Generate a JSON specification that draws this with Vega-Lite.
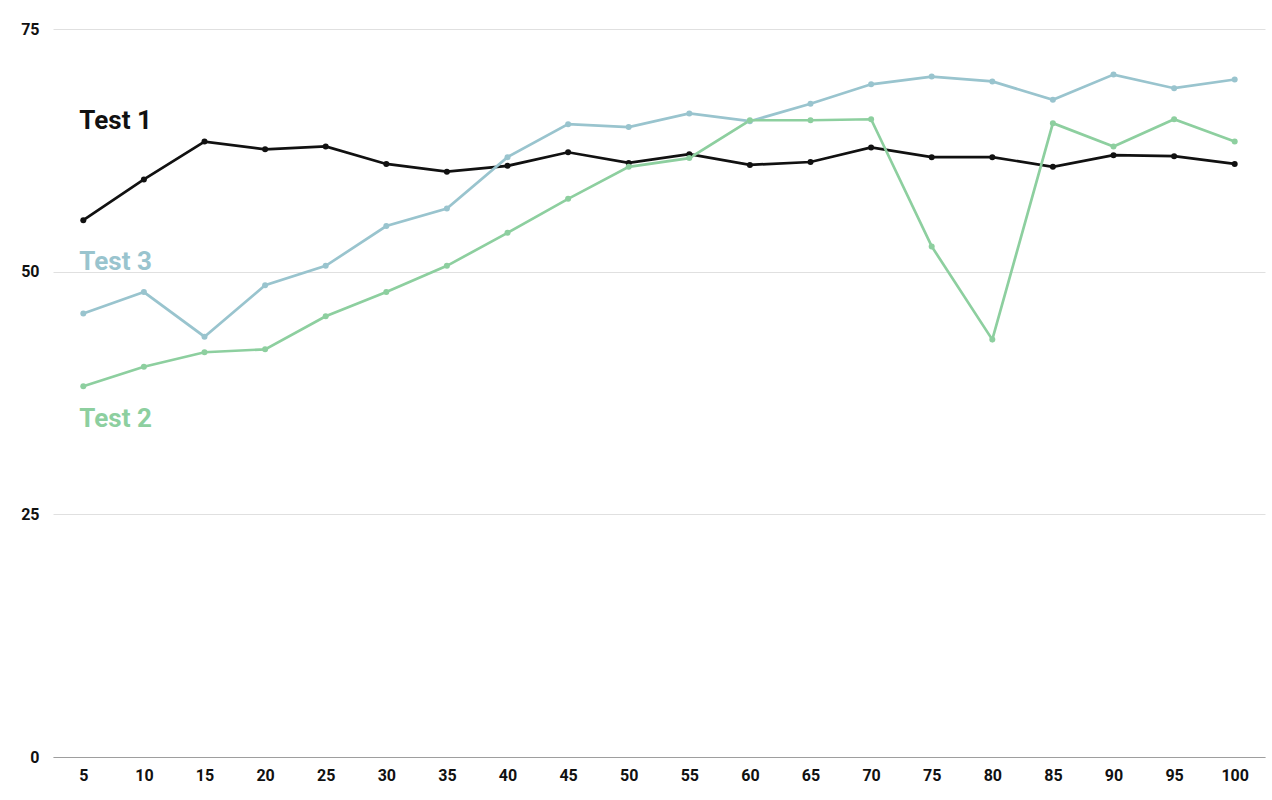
{
  "$schema": "https://vega.github.io/schema/vega-lite/v6.json",
  "autosize": "none",
  "width": 1212,
  "height": 728,
  "padding": {"left": 53, "top": 29, "right": 7, "bottom": 43},
  "background": "white",
  "config": {
    "view": {"stroke": null},
    "font": "Roboto",
    "axis": {"labelFont": "Roboto", "labelFontWeight": "bold", "labelFontSize": 16, "labelColor": "#111", "title": null, "ticks": false}
  },
  "datasets": {
    "lines": [
      {"series": "Test 1", "x": 5, "value": 55.3},
      {"series": "Test 1", "x": 10, "value": 59.5},
      {"series": "Test 1", "x": 15, "value": 63.4},
      {"series": "Test 1", "x": 20, "value": 62.6},
      {"series": "Test 1", "x": 25, "value": 62.9},
      {"series": "Test 1", "x": 30, "value": 61.1},
      {"series": "Test 1", "x": 35, "value": 60.3},
      {"series": "Test 1", "x": 40, "value": 60.9},
      {"series": "Test 1", "x": 45, "value": 62.3},
      {"series": "Test 1", "x": 50, "value": 61.2},
      {"series": "Test 1", "x": 55, "value": 62.1},
      {"series": "Test 1", "x": 60, "value": 61.0},
      {"series": "Test 1", "x": 65, "value": 61.3},
      {"series": "Test 1", "x": 70, "value": 62.8},
      {"series": "Test 1", "x": 75, "value": 61.8},
      {"series": "Test 1", "x": 80, "value": 61.8},
      {"series": "Test 1", "x": 85, "value": 60.8},
      {"series": "Test 1", "x": 90, "value": 62.0},
      {"series": "Test 1", "x": 95, "value": 61.9},
      {"series": "Test 1", "x": 100, "value": 61.1},
      {"series": "Test 3", "x": 5, "value": 45.7},
      {"series": "Test 3", "x": 10, "value": 47.9},
      {"series": "Test 3", "x": 15, "value": 43.3},
      {"series": "Test 3", "x": 20, "value": 48.6},
      {"series": "Test 3", "x": 25, "value": 50.6},
      {"series": "Test 3", "x": 30, "value": 54.7},
      {"series": "Test 3", "x": 35, "value": 56.5},
      {"series": "Test 3", "x": 40, "value": 61.8},
      {"series": "Test 3", "x": 45, "value": 65.2},
      {"series": "Test 3", "x": 50, "value": 64.9},
      {"series": "Test 3", "x": 55, "value": 66.3},
      {"series": "Test 3", "x": 60, "value": 65.5},
      {"series": "Test 3", "x": 65, "value": 67.3},
      {"series": "Test 3", "x": 70, "value": 69.3},
      {"series": "Test 3", "x": 75, "value": 70.1},
      {"series": "Test 3", "x": 80, "value": 69.6},
      {"series": "Test 3", "x": 85, "value": 67.7},
      {"series": "Test 3", "x": 90, "value": 70.3},
      {"series": "Test 3", "x": 95, "value": 68.9},
      {"series": "Test 3", "x": 100, "value": 69.8},
      {"series": "Test 2", "x": 5, "value": 38.2},
      {"series": "Test 2", "x": 10, "value": 40.2},
      {"series": "Test 2", "x": 15, "value": 41.7},
      {"series": "Test 2", "x": 20, "value": 42.0},
      {"series": "Test 2", "x": 25, "value": 45.4},
      {"series": "Test 2", "x": 30, "value": 47.9},
      {"series": "Test 2", "x": 35, "value": 50.6},
      {"series": "Test 2", "x": 40, "value": 54.0},
      {"series": "Test 2", "x": 45, "value": 57.5},
      {"series": "Test 2", "x": 50, "value": 60.8},
      {"series": "Test 2", "x": 55, "value": 61.7},
      {"series": "Test 2", "x": 60, "value": 65.6},
      {"series": "Test 2", "x": 65, "value": 65.6},
      {"series": "Test 2", "x": 70, "value": 65.7},
      {"series": "Test 2", "x": 75, "value": 52.6},
      {"series": "Test 2", "x": 80, "value": 43.0},
      {"series": "Test 2", "x": 85, "value": 65.3},
      {"series": "Test 2", "x": 90, "value": 62.9},
      {"series": "Test 2", "x": 95, "value": 65.7},
      {"series": "Test 2", "x": 100, "value": 63.4}
    ],
    "labels": [
      {"series": "Test 1", "x": 5, "value": 65.5},
      {"series": "Test 3", "x": 5, "value": 51.0},
      {"series": "Test 2", "x": 5, "value": 34.8}
    ]
  },
  "encoding": {
    "x": {
      "field": "x", "type": "ordinal", "sort": "ascending",
      "scale": {"type": "point", "padding": 0.5},
      "axis": {"labelAngle": 0, "labelPadding": 10, "domain": true, "domainColor": "#9e9e9e", "domainWidth": 1, "grid": false}
    },
    "y": {
      "field": "value", "type": "quantitative",
      "scale": {"domain": [0, 75], "nice": false},
      "axis": {"values": [0, 25, 50, 75], "domain": false, "grid": true, "gridColor": "#e0e0e0", "gridWidth": 1, "labelPadding": 14}
    },
    "color": {
      "field": "series", "type": "nominal", "legend": null,
      "scale": {"domain": ["Test 1", "Test 2", "Test 3"], "range": ["#111111", "#8dcf9f", "#99c4ce"]}
    }
  },
  "layer": [
    {
      "data": {"name": "lines"},
      "mark": {"type": "line", "strokeWidth": 2.7},
      "encoding": {"detail": {"field": "series"}}
    },
    {
      "data": {"name": "lines"},
      "mark": {"type": "point", "filled": true, "size": 36, "opacity": 1}
    },
    {
      "data": {"name": "labels"},
      "mark": {"type": "text", "align": "left", "baseline": "middle", "dx": -4, "fontSize": 26, "fontWeight": "bold", "font": "Roboto"},
      "encoding": {"text": {"field": "series"}}
    }
  ]
}
